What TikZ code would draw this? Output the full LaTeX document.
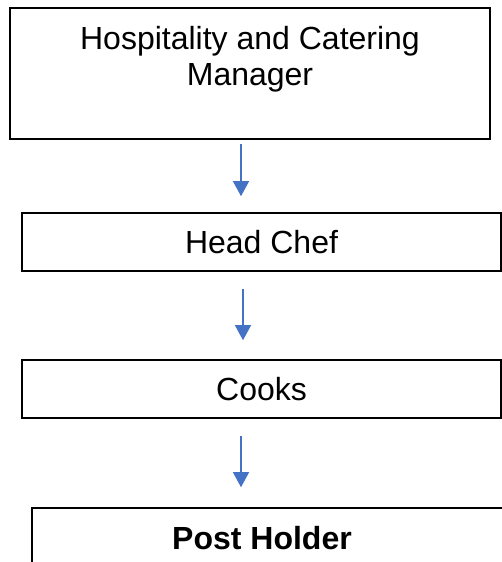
\documentclass[tikz,border=0pt]{standalone}
\usepackage{fontspec}
\setmainfont{Liberation Sans}
\usepackage{tikz}
\usetikzlibrary{shapes.geometric, arrows.meta}
\definecolor{arrowblue}{RGB}{68,114,196}
\tikzstyle{box} = [rectangle, draw=black, line width=1.6bp, fill=white, inner sep=0pt, align=center, font=\fontsize{32bp}{36bp}\selectfont]
\tikzstyle{arrow} = [draw=arrowblue, line width=1.3bp, -{Triangle[width=16bp,length=15bp]}]

\begin{document}
\begin{tikzpicture}[x=1bp, y=-1bp]
\useasboundingbox (0,0) rectangle (502,562);
\node (mgr) [box, minimum width=480bp, minimum height=131bp] at (250,73.5) {Hospitality and Catering\\Manager\\[-12bp]\strut};
\node (chef) [box, minimum width=479bp, minimum height=58bp] at (261.5,242) {Head Chef};
\node (cooks) [box, minimum width=479bp, minimum height=58bp] at (261.5,389) {Cooks};
\node (post) [box, minimum width=480bp, minimum height=60bp] at (272,538) {\textbf{Post Holder}\hspace{20bp}};

\draw [arrow, shorten <=4bp, shorten >=16bp] (mgr.south -| 241,0) -- (chef.north -| 241,0);
\draw [arrow, shorten <=17bp, shorten >=19bp] (chef.south -| 243,0) -- (cooks.north -| 243,0);
\draw [arrow, shorten <=17bp, shorten >=20bp] (cooks.south -| 241,0) -- (post.north -| 241,0);
\end{tikzpicture}
\end{document}
